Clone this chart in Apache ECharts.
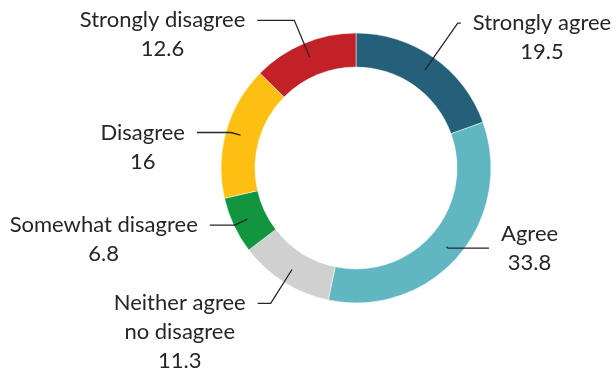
<!DOCTYPE html>
<html>
<head>
<meta charset="utf-8">
<script src="https://cdn.jsdelivr.net/npm/echarts@6/dist/echarts.min.js"></script>
<style>
  html, body { margin: 0; padding: 0; background: #fff; }
  #chart { width: 616px; height: 375px; }
</style>
</head>
<body>
<div id="chart"></div>
<script>
// answers, clockwise from 12 o'clock
const categories = [
  "Strongly agree",
  "Agree",
  "Neither agree\nno disagree",
  "Somewhat disagree",
  "Disagree",
  "Strongly disagree"
];
const values = [19.5, 33.8, 11.3, 6.8, 16, 12.6];

const colors = ["#256079", "#60b6c1", "#d0d0d0", "#11963f", "#fdbf12", "#c12127"];

// leader line layout per slice: [radial length, horizontal length]
const leaderLines = [[57, 3], [2, 41], [40, 13], [14, 25], [10, 34], [40, 37]];
// which line of the label the leader points at (true = first line)
const hookFirstLine = [true, false, true, true, true, true];

const LINE_H = 29;
const FONT = "Lato, 'Open Sans', sans-serif";

const chart = echarts.init(document.getElementById("chart"), null, { renderer: "canvas" });

const ringData = categories.map((name, i) => ({
  name: name,
  value: values[i],
  itemStyle: { color: colors[i] }
}));

const labelData = categories.map((name, i) => {
  const lines = name.split("\n").length + 1;
  return {
    name: name,
    value: values[i],
    label: {
      padding: [hookFirstLine[i] ? (lines - 1) * LINE_H : 0, 0, 0, 0]
    },
    labelLine: { length: leaderLines[i][0], length2: leaderLines[i][1] }
  };
});

chart.setOption({
  animation: false,
  series: [
    {
      type: "pie",
      center: [356, 168],
      radius: [101, 135],
      startAngle: 90,
      clockwise: true,
      silent: true,
      label: { show: false },
      labelLine: { show: false },
      itemStyle: { borderColor: "#ffffff", borderWidth: 0.5 },
      data: ringData
    },
    {
      // invisible helper pie so that the leader lines start inside the ring
      type: "pie",
      z: 5,
      center: [356, 168],
      radius: [0, 120],
      startAngle: 90,
      clockwise: true,
      silent: true,
      avoidLabelOverlap: false,
      itemStyle: { color: "rgba(0,0,0,0)" },
      label: {
        show: true,
        position: "outside",
        alignTo: "none",
        distanceToLabelLine: 12,
        formatter: (p) => p.name.split("\n").map((s) => "{t|" + s + "}").join("\n") + "\n{t|" + p.value + "}",
        rich: {
          t: {
            align: "center",
            fontFamily: FONT,
            fontSize: 22,
            lineHeight: LINE_H,
            color: "#262626"
          }
        }
      },
      labelLine: {
        show: true,
        smooth: false,
        lineStyle: { color: "#262626", width: 1.3 }
      },
      data: labelData
    }
  ]
});
</script>
</body>
</html>
